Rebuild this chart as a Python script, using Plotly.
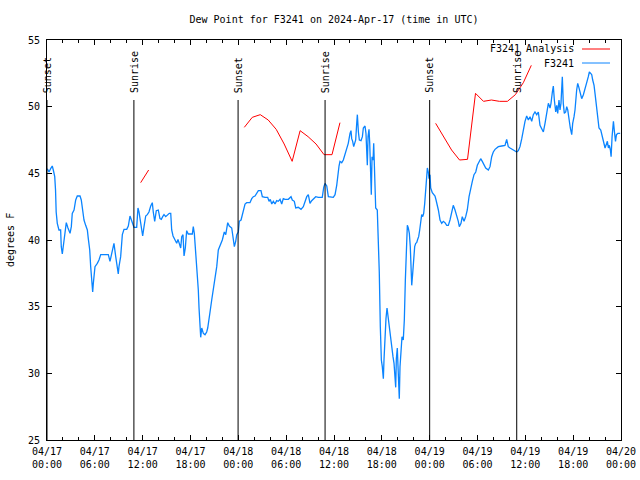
import pandas as pd
import plotly.graph_objects as go

START = pd.Timestamp("2024-04-17 00:00")

# Observed dew point (hours since 2024-04-17 00:00 UTC, degrees F)
obs_hours = [0.04, 0.25, 0.46, 0.66, 0.79, 0.97, 1.07, 1.15, 1.29, 1.5, 1.71, 1.79, 1.92, 2.04, 2.22, 2.42, 2.63, 2.89,
             3.05, 3.17, 3.39, 3.6, 3.8, 4.14, 4.3, 4.43, 4.64, 4.85, 5.06, 5.18, 5.36, 5.48, 5.61, 5.73, 5.81, 5.9,
             6.02, 6.31, 6.52, 6.74, 7.15, 7.69, 7.9, 8.12, 8.28, 8.4, 8.62, 8.82, 8.94, 9.03, 9.24, 9.45, 9.66, 10.0,
             10.2, 10.41, 10.62, 10.79, 10.91, 11.25, 11.41, 11.54, 11.75, 11.88, 12.0, 12.17, 12.38, 12.58, 12.79,
             13.01, 13.21, 13.33, 13.51, 13.71, 13.96, 14.17, 14.34, 14.51, 14.68, 14.89, 15.09, 15.34, 15.52, 15.64,
             15.81, 16.06, 16.27, 16.43, 16.6, 16.77, 16.9, 17.06, 17.19, 17.35, 17.52, 17.72, 18.23, 18.35, 18.48,
             18.69, 18.85, 18.98, 19.07, 19.19, 19.28, 19.41, 19.61, 19.82, 20.03, 20.16, 20.32, 20.45, 20.66, 20.86,
             21.07, 21.29, 21.49, 21.7, 21.99, 22.24, 22.42, 22.67, 22.87, 23.17, 23.37, 23.5, 23.67, 23.8, 24.0,
             24.12, 24.34, 24.5, 24.62, 24.84, 25.05, 25.46, 25.68, 25.88, 26.09, 26.3, 26.51, 26.84, 27.01, 27.35,
             27.68, 27.85, 28.01, 28.19, 28.39, 28.6, 28.81, 29.01, 29.23, 29.44, 29.64, 29.85, 30.27, 30.61, 30.77,
             31.02, 31.2, 31.52, 31.86, 32.15, 32.36, 32.58, 32.78, 32.99, 33.2, 33.53, 33.71, 34.03, 34.53, 34.71,
             34.87, 35.09, 35.29, 35.91, 36.13, 36.34, 36.46, 36.63, 36.75, 36.97, 37.17, 37.38, 37.59, 37.79, 38.01,
             38.13, 38.22, 38.34, 38.47, 38.55, 38.72, 38.85, 38.93, 39.06, 39.18, 39.39, 39.56, 39.68, 39.89, 40.01,
             40.1, 40.18, 40.27, 40.39, 40.48, 40.55, 40.68, 40.77, 40.9, 40.98, 41.06, 41.14, 41.23, 41.43, 41.56,
             41.68, 41.81, 41.94, 42.06, 42.19, 42.27, 42.4, 42.52, 42.65, 42.77, 42.9, 43.03, 43.15, 43.28, 43.4,
             43.53, 43.65, 43.74, 43.82, 43.94, 44.03, 44.12, 44.19, 44.28, 44.41, 44.53, 44.69, 44.82, 44.95, 45.07,
             45.2, 45.32, 45.45, 45.57, 45.66, 45.75, 45.87, 46.0, 46.12, 46.25, 46.37, 46.5, 46.62, 46.75, 46.88,
             47.0, 47.13, 47.25, 47.38, 47.5, 47.63, 47.71, 47.83, 47.92, 48.04, 48.13, 48.33, 48.58, 48.67, 48.8,
             48.92, 49.09, 49.3, 49.51, 49.71, 49.92, 50.14, 50.34, 50.55, 50.76, 50.96, 51.18, 51.39, 51.59, 51.72,
             51.93, 52.09, 52.31, 52.52, 52.72, 52.94, 53.15, 53.35, 53.56, 53.78, 53.98, 54.19, 54.4, 54.6, 54.82,
             55.03, 55.36, 55.57, 55.78, 55.98, 56.2, 56.41, 56.61, 57.04, 57.45, 57.66, 57.79, 57.86, 58.08, 58.49,
             58.92, 59.12, 59.33, 59.55, 59.75, 59.96, 60.17, 60.38, 60.59, 60.8, 61.0, 61.21, 61.43, 61.63, 61.84,
             62.05, 62.26, 62.47, 62.68, 62.89, 63.1, 63.22, 63.39, 63.51, 63.64, 63.81, 63.94, 64.06, 64.22, 64.35,
             64.47, 64.56, 64.64, 64.76, 64.89, 65.06, 65.19, 65.32, 65.48, 65.64, 65.82, 65.94, 66.11, 66.23, 66.44,
             66.57, 66.69, 66.82, 66.95, 67.07, 67.28, 67.41, 67.57, 67.74, 67.9, 68.03, 68.2, 68.33, 68.45, 68.62,
             68.74, 68.87, 68.99, 69.12, 69.24, 69.46, 69.58, 69.71, 69.87, 70.0, 70.12, 70.29, 70.42, 70.54, 70.67,
             70.76, 70.88, 70.97, 71.05, 71.18, 71.31, 71.43, 71.61, 71.9]
obs_values = [45.35, 45.1, 45.35, 45.55, 45.25, 44.75, 43.75, 42.1, 41.25, 40.75, 40.75, 39.5, 38.95, 39.5, 40.4, 41.3,
              40.9, 40.5, 41.0, 42.0, 42.25, 43.0, 43.3, 43.3, 43.0, 42.4, 41.5, 41.1, 40.75, 40.1, 39.25, 38.0, 36.75,
              36.1, 36.75, 37.5, 38.0, 38.25, 38.5, 38.9, 38.9, 38.9, 38.4, 39.1, 39.6, 39.75, 38.75, 37.9, 37.45,
              38.0, 38.75, 40.4, 40.8, 40.8, 41.05, 41.8, 41.4, 41.25, 40.95, 40.95, 42.4, 42.1, 41.4, 40.7, 40.3,
              41.0, 41.8, 41.9, 42.1, 42.55, 42.8, 42.1, 41.4, 42.2, 42.25, 41.6, 41.55, 41.75, 41.9, 41.75, 41.85,
              42.0, 42.0, 40.75, 40.3, 40.0, 39.75, 40.05, 39.7, 39.4, 40.25, 40.4, 38.8, 39.4, 40.7, 40.45, 40.45,
              41.0, 40.5, 39.0, 37.6, 36.25, 34.9, 33.4, 32.7, 33.4, 33.0, 32.9, 33.1, 33.4, 33.9, 34.6, 35.5, 36.25,
              37.1, 38.0, 39.25, 39.6, 40.0, 40.6, 40.4, 41.3, 41.05, 40.9, 40.0, 39.5, 39.9, 40.4, 40.6, 41.4, 41.5,
              41.9, 42.25, 42.7, 42.8, 42.8, 43.1, 43.25, 43.3, 43.55, 43.7, 43.7, 43.25, 43.2, 43.2, 42.9, 43.05,
              42.7, 42.9, 42.7, 42.95, 42.9, 43.05, 42.7, 43.1, 43.05, 43.05, 43.25, 43.0, 42.9, 42.4, 42.45, 42.3,
              42.5, 42.9, 43.25, 43.4, 42.75, 42.95, 43.1, 43.25, 43.2, 43.2, 43.95, 44.25, 44.05, 43.25, 43.2, 43.4,
              44.1, 44.9, 45.55, 45.9, 45.8, 46.0, 46.4, 46.9, 47.25, 48.0, 48.2, 47.6, 47.4, 47.0, 47.25, 47.5, 48.75,
              49.4, 48.1, 47.5, 47.45, 47.75, 48.4, 48.55, 48.0, 46.4, 45.6, 47.75, 48.3, 47.25, 44.75, 43.4, 46.25,
              46.0, 47.25, 46.0, 43.5, 42.4, 42.25, 40.4, 37.6, 33.5, 31.0, 30.5, 29.6, 31.0, 33.0, 34.1, 34.9, 34.25,
              33.5, 33.0, 32.25, 31.75, 31.25, 30.75, 29.75, 28.95, 31.1, 31.9, 30.5, 29.25, 28.1, 30.5, 31.75, 32.75,
              32.5, 34.0, 37.0, 39.75, 41.1, 40.9, 40.5, 39.5, 38.5, 36.6, 37.5, 38.5, 39.5, 39.75, 39.8, 40.05, 40.25,
              40.75, 41.5, 41.9, 41.75, 42.0, 42.75, 43.6, 44.75, 45.4, 45.1, 44.6, 44.9, 43.9, 43.55, 43.4, 43.3, 43.0,
              42.75, 42.25, 41.5, 41.25, 41.4, 41.3, 41.1, 41.1, 41.5, 42.0, 42.6, 42.25, 41.9, 41.4, 41.0, 41.25,
              41.75, 41.4, 41.75, 42.25, 43.25, 44.0, 44.4, 44.9, 45.1, 45.6, 45.9, 46.1, 45.9, 45.6, 45.4, 45.25,
              45.5, 46.25, 46.6, 46.8, 46.9, 47.0, 47.05, 47.1, 47.55, 47.3, 47.0, 46.9, 46.75, 46.6, 46.7, 47.0, 47.6,
              48.25, 48.9, 49.3, 49.0, 49.25, 48.9, 49.4, 49.6, 49.4, 49.6, 48.6, 48.4, 48.1, 48.75, 49.6, 50.25, 49.9,
              50.25, 51.1, 51.55, 50.5, 49.6, 50.1, 49.5, 50.5, 49.75, 50.25, 51.5, 52.25, 50.25, 49.5, 49.6, 50.0,
              49.75, 49.0, 48.4, 47.9, 48.75, 49.25, 49.75, 51.25, 51.75, 51.5, 51.1, 50.9, 50.6, 50.9, 51.25, 51.5,
              51.9, 52.25, 52.6, 52.5, 52.4, 52.0, 51.6, 51.0, 50.4, 49.75, 49.0, 48.4, 48.25, 47.9, 47.6, 47.1, 46.9,
              47.1, 47.4, 46.9, 47.1, 46.75, 46.25, 47.75, 48.25, 48.9, 48.1, 47.4, 47.9, 48.0, 48.0]

# Analysis (hourly, at HH:45); None marks gaps
ana_hours = [11.75, 12.75, 13.75,
             24.75, 25.75, 26.75, 27.75, 28.75, 29.75, 30.75, 31.75, 32.75, 33.75, 34.75, 35.75, 36.75, 37.75,
             48.75, 49.75, 50.75, 51.75, 52.75, 53.75, 54.75, 55.75, 56.75, 57.75, 58.75, 59.75, 60.75]
ana_values = [44.3, 45.25, None,
              48.45, 49.2, 49.4, 49.0, 48.3, 47.2, 45.9, 48.2, 47.75, 47.2, 46.4, 46.4, 48.8, None,
              48.75, 47.7, 46.75, 46.0, 46.05, 51.0, 50.4, 50.5, 50.4, 50.4, 50.9, 51.8, 53.1]

# Sun events (hours since start)
sun_hours = [0.0, 10.9, 23.97, 34.88, 48.0, 58.92]
sun_labels = ["Sunset", "Sunrise", "Sunset", "Sunrise", "Sunset", "Sunrise"]

y_ticks = [25, 30, 35, 40, 45, 50, 55]

def to_time(hours):
    return [START + pd.Timedelta(hours=h) for h in hours]

FONT = "DejaVu Sans Mono"
BLUE = "#0a84ff"
RED = "#ff0000"

fig = go.Figure()
fig.add_trace(go.Scatter(x=to_time(ana_hours), y=ana_values, mode="lines",
                         line=dict(color=RED, width=1), connectgaps=False, name="F3241 Analysis",
                         showlegend=False))
fig.add_trace(go.Scatter(x=to_time(obs_hours), y=obs_values, mode="lines",
                         line=dict(color=BLUE, width=1.3), name="F3241", showlegend=False))

for h, lab in zip(sun_hours, sun_labels):
    t = START + pd.Timedelta(hours=h)
    fig.add_shape(type="line", xref="x", yref="y domain", x0=t, x1=t, y0=0, y1=0.85,
                  line=dict(color="black", width=1))
    fig.add_annotation(x=t, xref="x", y=0.862, yref="y domain", text=lab, textangle=-90,
                       showarrow=False, xanchor="center", yanchor="bottom",
                       font=dict(family=FONT, size=10, color="black"))

# legend (gnuplot style: text then sample)
legend_items = [("F3241 Analysis", RED), ("F3241", BLUE)]
for i, (name, col) in enumerate(legend_items):
    ypx = 49 + 14 * i
    yp = (440 - ypx) / 400
    fig.add_annotation(x=(576 - 47) / 574, xref="paper", y=yp, yref="paper", text=name,
                       showarrow=False, xanchor="right", yanchor="middle",
                       font=dict(family=FONT, size=10, color="black"))
    fig.add_shape(type="line", xref="paper", yref="paper", x0=(582 - 47) / 574, x1=(610 - 47) / 574,
                  y0=yp, y1=yp, line=dict(color=col, width=1))

fig.add_annotation(x=(10 - 47) / 574, xref="paper", y=0.5, yref="paper", text="degrees F",
                   textangle=-90, showarrow=False, xanchor="center", yanchor="middle",
                   font=dict(family=FONT, size=10, color="black"))

x_major = pd.date_range(START, START + pd.Timedelta(hours=72), freq="6h")
fig.update_layout(
    width=640, height=480,
    margin=dict(l=47, r=19, t=40, b=40, autoexpand=False),
    paper_bgcolor="white", plot_bgcolor="white",
    font=dict(family=FONT, size=10, color="black"),
    title=dict(text="Dew Point for F3241 on 2024-Apr-17 (time in UTC)", x=0.5, xref="paper",
               y=1 - 19 / 480, yanchor="middle", font=dict(family=FONT, size=10, color="black")),
    showlegend=False,
)
fig.update_xaxes(
    type="date", range=[START, START + pd.Timedelta(hours=72)], automargin=False,
    tickvals=list(x_major), ticktext=[t.strftime("%m/%d<br>%H:%M") for t in x_major],
    ticks="inside", ticklen=5, tickcolor="black", showgrid=False, zeroline=False,
    showline=True, linecolor="black", linewidth=1, mirror="ticks", ticklabelstandoff=2,
    minor=dict(dtick=2 * 3600 * 1000, ticks="inside", ticklen=3, tickcolor="black", showgrid=False),
    tickfont=dict(family=FONT, size=10, color="black"),
)
fig.update_yaxes(
    range=[25, 55], tickvals=y_ticks, ticktext=[str(v) for v in y_ticks], automargin=False,
    ticks="inside", ticklen=5, tickcolor="black", showgrid=False, zeroline=False,
    showline=True, linecolor="black", linewidth=1, mirror="ticks", ticklabelstandoff=4,
    tickfont=dict(family=FONT, size=10, color="black"),
)

fig.write_html("out.html", config={"displayModeBar": False},
               post_script="document.body.style.margin='0';")
